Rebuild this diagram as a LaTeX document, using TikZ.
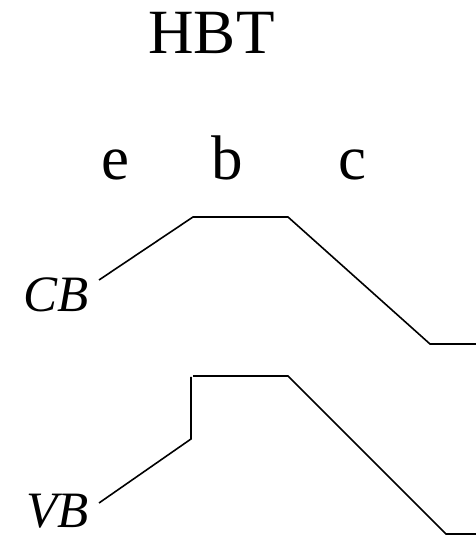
\documentclass[tikz,border=0pt]{standalone}
\usepackage{fontspec}
\setmainfont{Liberation Serif}
\begin{document}
\begin{tikzpicture}[x=1pt,y=1pt,
  lbl/.style={font=\fontsize{63}{63}\selectfont, inner sep=0pt, anchor=base},
  band/.style={font=\fontsize{51}{51}\selectfont\itshape, inner sep=0pt, anchor=base west},
  edge/.style={line width=1.6pt, line join=miter}]
\useasboundingbox (0,0) rectangle (476,536);
\node[lbl] (hbt) at (211.5,482) {HBT};
\node[lbl] (e) at (115,356) {e};
\node[lbl] (b) at (227.5,356) {b};
\node[lbl] (c) at (352.5,356) {c};
\node[band] (cb) at (23,224) {CB};
\node[band] (vb) at (26,9) {VB};
% conduction band
\coordinate (cb0) at (99,256);
\coordinate (cb1) at (193,319);
\coordinate (cb2) at (288,319);
\coordinate (cb3) at (430,192);
\coordinate (cb4) at (476,192);
\draw[edge] (cb0) -- (cb1) -- (cb2) -- (cb3) -- (cb4);
% valence band
\coordinate (vb0) at (99,33);
\coordinate (vb1) at (191,97);
\coordinate (vb2) at (191,159);
\coordinate (vb3) at (193,160);
\coordinate (vb4) at (288,160);
\coordinate (vb5) at (446,2);
\coordinate (vb6) at (476,2);
\draw[edge] (vb0) -- (vb1) -- (vb2);
\draw[edge] (vb3) -- (vb4) -- (vb5) -- (vb6);
\end{tikzpicture}
\end{document}
